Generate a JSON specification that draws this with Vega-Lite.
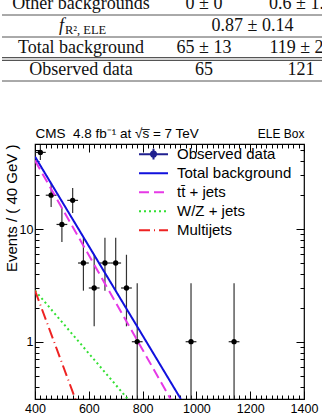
{
  "$schema": "https://vega.github.io/schema/vega-lite/v6.json",
  "padding": 0,
  "spacing": 41,
  "config": {
    "font": "Liberation Sans",
    "view": {"stroke": "black", "strokeWidth": 1.2},
    "axis": {"grid": false, "domain": false, "labelFlush": false, "labelOverlap": false, "tickColor": "black", "tickWidth": 1, "labelColor": "black", "titleColor": "black", "labelFont": "Liberation Sans", "titleFont": "Liberation Sans", "titleFontWeight": "normal", "minExtent": 0}
  },
  "datasets": {
    "labels": [
      {"row": 1, "col": "label", "text": "Other backgrounds"},
      {"row": 3, "col": "label", "text": "Total background"},
      {"row": 4, "col": "label", "text": "Observed data"}
    ],
    "values": [
      {"row": 1, "c": 1, "text": "0 ± 0"},
      {"row": 1, "c": 2, "text": "0.6 ± 1.0"},
      {"row": 2, "c": 1.5, "text": "0.87 ± 0.14"},
      {"row": 3, "c": 1, "text": "65 ± 13"},
      {"row": 3, "c": 2, "text": "119 ± 23"},
      {"row": 4, "c": 1, "text": "65"},
      {"row": 4, "c": 2, "text": "121"}
    ],
    "fcell": [{"row": 2, "col": "label", "sym": "f", "sub": "R², ELE"}],
    "seps": [{"sep": 1.5, "kind": "single"}, {"sep": 2.5, "kind": "single"}, {"sep": 3.5, "kind": "double"}, {"sep": 4.5, "kind": "single"}],
    "obs": [
      {"m": 420, "mlo": 400, "mhi": 440, "n": 48, "nlo": 41.1, "nhi": 55.9},
      {"m": 460, "mlo": 440, "mhi": 480, "n": 20, "nlo": 15.7, "nhi": 25.5},
      {"m": 500, "mlo": 480, "mhi": 520, "n": 11, "nlo": 7.7, "nhi": 15.4},
      {"m": 540, "mlo": 520, "mhi": 560, "n": 18, "nlo": 13.9, "nhi": 23.2},
      {"m": 580, "mlo": 560, "mhi": 600, "n": 5, "nlo": 2.84, "nhi": 8.38},
      {"m": 620, "mlo": 600, "mhi": 640, "n": 3, "nlo": 1.37, "nhi": 5.92},
      {"m": 660, "mlo": 640, "mhi": 680, "n": 5, "nlo": 2.84, "nhi": 8.38},
      {"m": 700, "mlo": 680, "mhi": 720, "n": 5, "nlo": 2.84, "nhi": 8.38},
      {"m": 740, "mlo": 720, "mhi": 760, "n": 3, "nlo": 1.37, "nhi": 5.92},
      {"m": 780, "mlo": 760, "mhi": 800, "n": 1, "nlo": 0.17, "nhi": 3.3},
      {"m": 980, "mlo": 960, "mhi": 1000, "n": 1, "nlo": 0.17, "nhi": 3.3},
      {"m": 1140, "mlo": 1120, "mhi": 1160, "n": 1, "nlo": 0.17, "nhi": 3.3}
    ],
    "fits": [
      {"series": "Total background", "x": 400, "y": 44},
      {"series": "Total background", "x": 942, "y": 0.31},
      {"series": "tt̄ + jets", "x": 400, "y": 40.6},
      {"series": "tt̄ + jets", "x": 904, "y": 0.31},
      {"series": "W/Z + jets", "x": 400, "y": 2.85},
      {"series": "W/Z + jets", "x": 745, "y": 0.31},
      {"series": "Multijets", "x": 400, "y": 2.85},
      {"series": "Multijets", "x": 550, "y": 0.31}
    ]
  },
  "vconcat": [
    {
      "width": 322,
      "height": 84,
      "view": {"stroke": null},
      "layer": [
        {
          "data": {"name": "seps"},
          "transform": [{"filter": "datum.kind === 'single'"}],
          "mark": {"type": "rule", "color": "#555", "strokeWidth": 1},
          "encoding": {"y": {"field": "sep", "type": "quantitative", "scale": {"domain": [0.818, 4.636], "reverse": true, "nice": false, "zero": false}, "axis": null}}
        },
        {
          "data": {"name": "seps"},
          "transform": [{"filter": "datum.kind === 'double'"}],
          "mark": {"type": "rule", "color": "#555", "strokeWidth": 3.8},
          "encoding": {"y": {"field": "sep", "type": "quantitative", "scale": {"domain": [0.818, 4.636], "reverse": true, "nice": false, "zero": false}, "axis": null}}
        },
        {
          "data": {"name": "seps"},
          "transform": [{"filter": "datum.kind === 'double'"}],
          "mark": {"type": "rule", "color": "white", "strokeWidth": 1.6},
          "encoding": {"y": {"field": "sep", "type": "quantitative", "scale": {"domain": [0.818, 4.636], "reverse": true, "nice": false, "zero": false}, "axis": null}}
        },
        {
          "data": {"name": "labels"},
          "mark": {"type": "text", "font": "Liberation Serif", "fontSize": 18, "color": "#111", "baseline": "middle", "clip": true},
          "encoding": {
            "x": {"field": "col", "type": "nominal", "scale": {"type": "point", "domain": ["label"], "align": 0.2453}, "axis": null},
            "y": {"field": "row", "type": "quantitative", "scale": {"domain": [0.818, 4.636], "reverse": true, "nice": false, "zero": false}, "axis": null},
            "text": {"field": "text"}
          }
        },
        {
          "data": {"name": "values"},
          "mark": {"type": "text", "font": "Liberation Serif", "fontSize": 18, "color": "#111", "baseline": "middle", "clip": true},
          "encoding": {
            "x": {"field": "c", "type": "quantitative", "scale": {"domain": [-1.082, 2.237], "nice": false, "zero": false}, "axis": null},
            "y": {"field": "row", "type": "quantitative", "scale": {"domain": [0.818, 4.636], "reverse": true, "nice": false, "zero": false}, "axis": null},
            "text": {"field": "text"}
          }
        },
        {
          "data": {"name": "fcell"},
          "mark": {"type": "text", "font": "Liberation Serif", "fontSize": 18, "fontStyle": "italic", "color": "#111", "baseline": "middle", "align": "right", "dx": -17, "clip": true},
          "encoding": {
            "x": {"field": "col", "type": "nominal", "scale": {"type": "point", "domain": ["label"], "align": 0.2453}, "axis": null},
            "y": {"field": "row", "type": "quantitative", "scale": {"domain": [0.818, 4.636], "reverse": true, "nice": false, "zero": false}, "axis": null},
            "text": {"field": "sym"}
          }
        },
        {
          "data": {"name": "fcell"},
          "mark": {"type": "text", "font": "Liberation Serif", "fontSize": 12.5, "color": "#111", "baseline": "middle", "align": "left", "dx": -16, "dy": 4, "clip": true},
          "encoding": {
            "x": {"field": "col", "type": "nominal", "scale": {"type": "point", "domain": ["label"], "align": 0.2453}, "axis": null},
            "y": {"field": "row", "type": "quantitative", "scale": {"domain": [0.818, 4.636], "reverse": true, "nice": false, "zero": false}, "axis": null},
            "text": {"field": "sub"}
          }
        }
      ],
      "resolve": {"scale": {"x": "independent"}}
    },
    {
      "spacing": 0,
      "hconcat": [
        {
          "width": 1,
          "height": 10,
          "view": {"stroke": null},
          "data": {"values": []},
          "mark": {"type": "point", "opacity": 0},
          "encoding": {}
        },
        {
          "width": 269,
          "height": 255,
          "layer": [
            {
              "data": {"name": "obs"},
              "mark": {"type": "rule", "color": "#333", "strokeWidth": 1.2, "clip": true},
              "encoding": {
                "x": {"field": "m", "type": "quantitative", "scale": {"domain": [400, 1400], "nice": false, "zero": false},
                  "axis": {"orient": "bottom", "values": [400, 600, 800, 1000, 1200, 1400], "tickSize": -8, "labelPadding": 11, "labelFontSize": 12.5, "format": "d", "title": "MR [GeV]", "titleFontSize": 15, "titleAnchor": "end", "titlePadding": 1.5}},
                "y": {"field": "nlo", "type": "quantitative", "scale": {"type": "log", "domain": [0.31, 57], "nice": false},
                  "axis": {"orient": "left", "values": [1, 10], "tickSize": -8, "labelPadding": 10, "labelFontSize": 12.5, "format": "d", "title": "Events / ( 40 GeV )", "titleFontSize": 15, "titleAnchor": "end", "titlePadding": 0}},
                "y2": {"field": "nhi"}
              }
            },
            {
              "data": {"name": "obs"},
              "mark": {"type": "rule", "color": "#222", "strokeWidth": 1.2, "clip": true},
              "encoding": {
                "x": {"field": "mlo", "type": "quantitative", "scale": {"domain": [400, 1400], "nice": false, "zero": false},
                  "axis": {"orient": "bottom", "values": [420, 440, 460, 480, 500, 520, 540, 560, 580, 620, 640, 660, 680, 700, 720, 740, 760, 780, 820, 840, 860, 880, 900, 920, 940, 960, 980, 1020, 1040, 1060, 1080, 1100, 1120, 1140, 1160, 1180, 1220, 1240, 1260, 1280, 1300, 1320, 1340, 1360, 1380], "tickSize": -4, "labels": false, "title": null}},
                "x2": {"field": "mhi"},
                "y": {"field": "n", "type": "quantitative", "scale": {"type": "log", "domain": [0.31, 57], "nice": false},
                  "axis": {"orient": "left", "values": [0.4, 0.5, 0.6, 0.7, 0.8, 0.9, 2, 3, 4, 5, 6, 7, 8, 9, 20, 30, 40, 50], "tickSize": -4, "labels": false, "title": null}}
              }
            },
            {
              "data": {"name": "obs"},
              "mark": {"type": "point", "filled": true, "color": "black", "opacity": 1, "size": 28},
              "encoding": {
                "x": {"field": "m", "type": "quantitative", "scale": {"domain": [400, 1400], "nice": false, "zero": false},
                  "axis": {"orient": "top", "values": [400, 600, 800, 1000, 1200, 1400], "tickSize": -8, "labels": false, "title": "CMS\u00a0\u00a04.8 fb⁻¹ at\u00a0√s̅ = 7 TeV", "titleFontSize": 13.5, "titleAnchor": "start", "titlePadding": 3}},
                "y": {"field": "n", "type": "quantitative", "scale": {"type": "log", "domain": [0.31, 57], "nice": false},
                  "axis": {"orient": "right", "values": [1, 10], "tickSize": -8, "labels": false, "title": null}}
              }
            },
            {
              "data": {"name": "fits"},
              "mark": {"type": "line", "strokeWidth": 2, "clip": true},
              "encoding": {
                "x": {"field": "x", "type": "quantitative", "scale": {"domain": [400, 1400], "nice": false, "zero": false},
                  "axis": {"orient": "top", "values": [420, 440, 460, 480, 500, 520, 540, 560, 580, 620, 640, 660, 680, 700, 720, 740, 760, 780, 820, 840, 860, 880, 900, 920, 940, 960, 980, 1020, 1040, 1060, 1080, 1100, 1120, 1140, 1160, 1180, 1220, 1240, 1260, 1280, 1300, 1320, 1340, 1360, 1380], "tickSize": -4, "labels": false, "title": "ELE Box", "titleFontSize": 12, "titleAnchor": "end", "titlePadding": 3}},
                "y": {"field": "y", "type": "quantitative", "scale": {"type": "log", "domain": [0.31, 57], "nice": false},
                  "axis": {"orient": "right", "values": [0.4, 0.5, 0.6, 0.7, 0.8, 0.9, 2, 3, 4, 5, 6, 7, 8, 9, 20, 30, 40, 50], "tickSize": -4, "labels": false, "title": null}},
                "color": {"field": "series", "type": "nominal",
                  "scale": {"domain": ["Observed data", "Total background", "tt̄ + jets", "W/Z + jets", "Multijets"], "range": ["#202090", "#1111dd", "#e639e6", "#33e033", "#ee2222"]},
                  "legend": {"orient": "none", "legendX": 136, "legendY": 145, "title": null, "padding": 0, "rowPadding": 0, "clipHeight": 18.3, "labelFontSize": 15, "labelFont": "Liberation Sans", "labelColor": "black", "labelOffset": 8, "symbolSize": 841, "symbolStrokeWidth": 2, "symbolType": "stroke", "labelLimit": 300,
                    "encode": {"symbols": {"update": {
                      "shape": {"signal": "datum.value === 'Observed data' ? 'M-1,0H1M0,-0.37V0.37M0.18,0A0.18,0.18,0,1,1,-0.18,0A0.18,0.18,0,1,1,0.18,0' : 'stroke'"},
                      "fill": {"signal": "datum.value === 'Observed data' ? 'black' : 'transparent'"}
                    }}}}},
                "strokeDash": {"field": "series", "type": "nominal",
                  "scale": {"domain": ["Observed data", "Total background", "tt̄ + jets", "W/Z + jets", "Multijets"], "range": [[1, 0], [1, 0], [10, 5], [2, 3], [11, 4, 1, 4]]}}
              }
            }
          ],
          "resolve": {"axis": {"x": "independent", "y": "independent"}}
        }
      ]
    }
  ]
}
